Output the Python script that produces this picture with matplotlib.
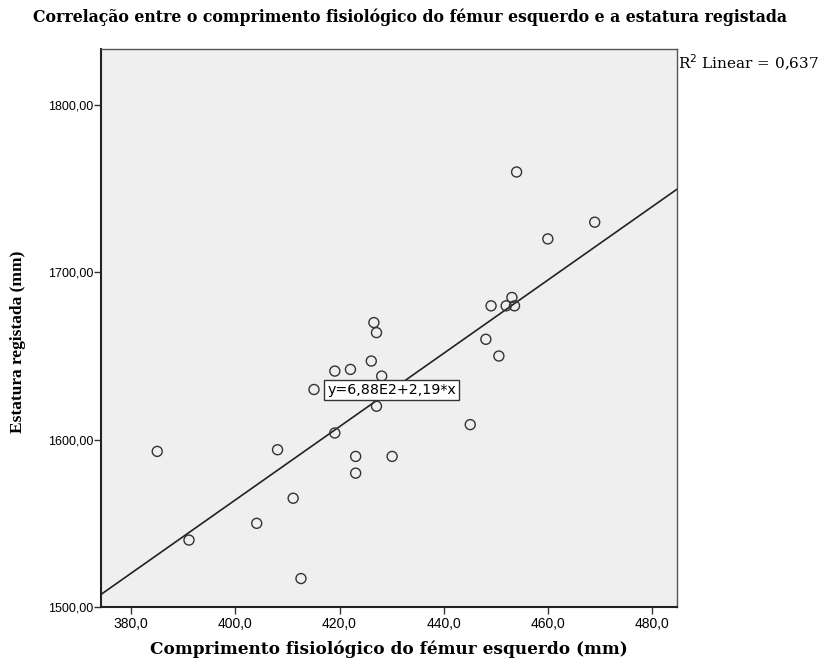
import matplotlib
matplotlib.use("Agg")
import matplotlib.pyplot as plt
from matplotlib.ticker import FuncFormatter

# femur length (mm) vs recorded stature (mm)
femur = [385.0, 391.1, 404.1, 408.1, 411.1, 412.6, 415.1, 419.1, 419.1, 422.1,
         423.1, 423.1, 426.1, 427.1, 427.1, 428.1, 430.1, 445.1, 448.1, 450.6,
         454.0, 469.0, 460.0, 453.1, 449.1, 452.0, 453.6, 426.6]
stature = [1593, 1540, 1550, 1594, 1565, 1517, 1630, 1604, 1641, 1642,
           1590, 1580, 1647, 1664, 1620, 1638, 1590, 1609, 1660, 1650,
           1760, 1730, 1720, 1685, 1680, 1680, 1680, 1670]

intercept = 688.0
slope = 2.19
r2 = 0.637

x_ticks = [380, 400, 420, 440, 460, 480]
y_ticks = [1500, 1600, 1700, 1800]

SERIF = "Liberation Serif"
WIDE_SERIF = "DejaVu Serif"
SANS = "Liberation Sans"
BG = "#efefef"
EDGE = "#333333"

fig = plt.figure(figsize=(8.21, 6.66), dpi=100)
ax = fig.add_axes([0.123, 0.0886, 0.7016, 0.8378])
ax.set_facecolor(BG)
ax.set_xlim(374.2, 484.8)
ax.set_ylim(1500, 1833.5)

ax.scatter(femur, stature, s=52, facecolors="none", edgecolors=EDGE,
           linewidths=1.0, zorder=3)

x0, x1 = ax.get_xlim()
ax.plot([x0, x1], [intercept + slope * x0, intercept + slope * x1],
        color="#222222", lw=1.2, zorder=2)

lx = 430
ax.text(lx, intercept + slope * lx, "y=6,88E2+2,19*x", family="DejaVu Sans",
        fontsize=10.3, ha="center", va="center", zorder=5,
        bbox=dict(boxstyle="square,pad=0.2", fc="white", ec="#333333", lw=1))

ax.set_xticks(x_ticks)
ax.set_yticks(y_ticks)
ax.xaxis.set_major_formatter(FuncFormatter(lambda v, p: f"{v:.1f}".replace(".", ",")))
ax.yaxis.set_major_formatter(FuncFormatter(lambda v, p: f"{v:.2f}".replace(".", ",")))
for lab in ax.get_xticklabels():
    lab.set_family(SANS)
    lab.set_fontsize(10)
for lab in ax.get_yticklabels():
    lab.set_family(SANS)
    lab.set_fontsize(9)
ax.tick_params(direction="out", length=5, width=1, color="#333333",
               top=False, right=False)
ax.tick_params(axis="x", pad=2)
ax.tick_params(axis="y", pad=0.5)

for side in ["left", "bottom"]:
    ax.spines[side].set_color("#222222")
    ax.spines[side].set_linewidth(1.5)
for side in ["top", "right"]:
    ax.spines[side].set_color("#555555")
    ax.spines[side].set_linewidth(1.0)

ax.set_xlabel("Comprimento fisiológico do fémur esquerdo (mm)", family=WIDE_SERIF,
              fontsize=12.2, fontweight="bold", labelpad=7)
ax.set_ylabel("Estatura registada (mm)", family=SERIF, fontsize=12.5,
              fontweight="bold")
ax.yaxis.set_label_coords(-0.13, 0.475)

fig.text(0.499, 0.974, "Correlação entre o comprimento fisiológico do fémur esquerdo e a estatura registada",
         family=WIDE_SERIF, fontsize=11.3, fontweight="bold", ha="center", va="center")
fig.text(0.826, 0.906, f"R$^2$ Linear = {r2:.3f}".replace(".", ","), family=WIDE_SERIF,
         fontsize=11, ha="left", va="center")

fig.savefig("out.png", dpi=100, facecolor="white")
